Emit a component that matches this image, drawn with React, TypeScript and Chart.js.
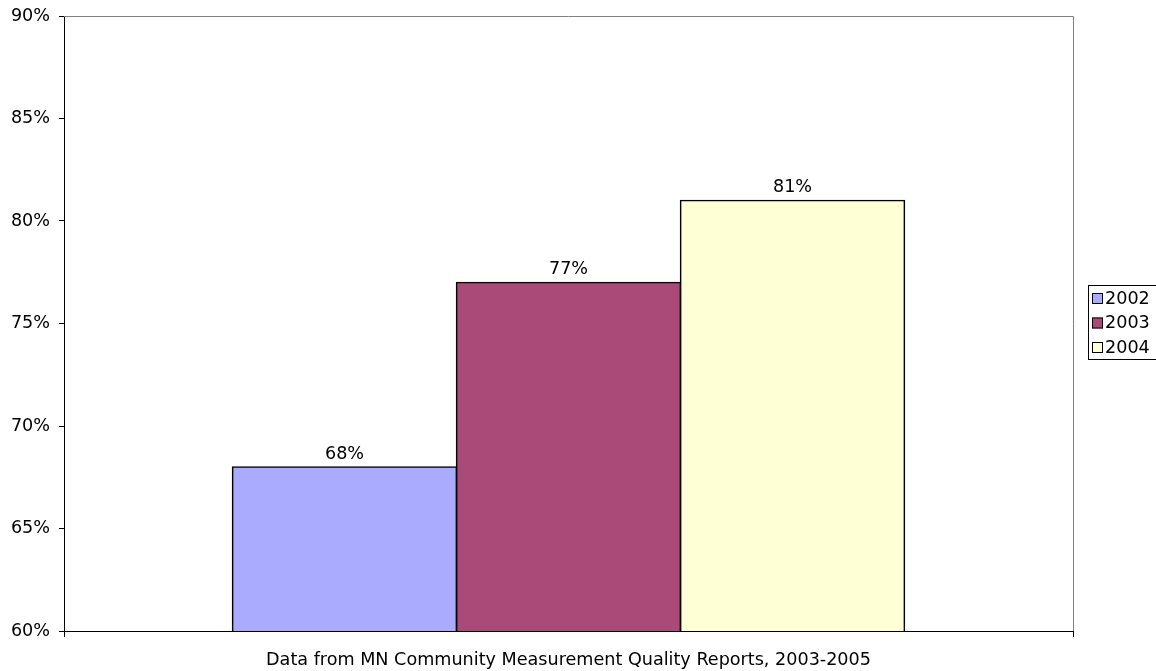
import React, { useEffect, useRef } from "react";
import { Chart, registerables } from "chart.js";

Chart.register(...registerables);

const categories = [""];
const seriesNames = ["2002", "2003", "2004"];
const values2002 = [0.68];
const values2003 = [0.77];
const values2004 = [0.81];
const seriesColors = ["#AAAAFF", "#A94A78", "#FFFFD6"];
const yTickMin = 0.6;
const yTickMax = 0.9;
const yTickStep = 0.05;
const axisTitle = "Data from MN Community Measurement Quality Reports, 2003-2005";

const FONT = "'DejaVu Sans', Verdana, sans-serif";
const FS = 17.6;

const pct = (v: number) => `${Math.round(v * 100)}%`;

const extrasPlugin = {
  id: "extras",
  afterDatasetsDraw(chart: any) {
    const ctx = chart.ctx;
    const area = chart.chartArea;
    ctx.save();
    // gray frame top & right
    ctx.strokeStyle = "#808080";
    ctx.lineWidth = 1;
    ctx.beginPath();
    ctx.moveTo(area.left, area.top + 0.5);
    ctx.lineTo(area.right + 0.5, area.top + 0.5);
    ctx.lineTo(area.right + 0.5, area.bottom);
    ctx.stroke();
    // data labels
    ctx.fillStyle = "#000";
    ctx.font = `${FS}px ${FONT}`;
    ctx.textAlign = "center";
    ctx.textBaseline = "middle";
    chart.data.datasets.forEach((ds: any, i: number) => {
      const meta = chart.getDatasetMeta(i);
      meta.data.forEach((el: any, j: number) => {
        ctx.fillText(pct(ds.data[j]), el.x, el.y - 13);
      });
    });
    // legend
    const lx = 1088.5;
    const ly = 285.5;
    ctx.strokeStyle = "#000";
    ctx.lineWidth = 1;
    ctx.strokeRect(lx, ly, 100, 74);
    ctx.textAlign = "left";
    chart.data.datasets.forEach((ds: any, i: number) => {
      const y = 293 + i * 24.5;
      ctx.fillStyle = ds.backgroundColor;
      ctx.fillRect(1092, y, 11, 11);
      ctx.strokeStyle = "#000";
      ctx.strokeRect(1092.5, y + 0.5, 10, 10);
      ctx.fillStyle = "#000";
      ctx.fillText(ds.label, 1105, y + 6);
    });
    ctx.restore();
  },
};

export default function App() {
  const ref = useRef<HTMLCanvasElement>(null);
  useEffect(() => {
    if (!ref.current) return;
    const data = [values2002, values2003, values2004];
    const chart = new Chart(ref.current, {
      type: "bar",
      data: {
        labels: categories,
        datasets: seriesNames.map((name, i) => ({
          label: name,
          data: data[i],
          backgroundColor: seriesColors[i],
          borderColor: "#000",
          borderWidth: 1.6,
          inflateAmount: 0.75,
          categoryPercentage: 0.666,
          barPercentage: 1,
        })),
      },
      options: {
        animation: false,
        responsive: false,
        maintainAspectRatio: false,
        layout: { padding: { left: 0, right: 83, top: 16, bottom: 0 } },
        plugins: { legend: { display: false }, tooltip: { enabled: false } },
        scales: {
          x: {
            grid: {
              display: true,
              drawOnChartArea: false,
              drawTicks: true,
              tickLength: 6,
              color: "#000",
            },
            border: { display: true, color: "#000", width: 1 },
            ticks: { display: false },
            title: {
              display: true,
              text: axisTitle,
              color: "#000",
              font: { family: FONT, size: FS },
              padding: { top: 0, bottom: 0 },
            },
            afterFit: (s: any) => {
              s.height = 40;
            },
          },
          y: {
            min: yTickMin,
            max: yTickMax,
            grid: {
              drawOnChartArea: false,
              drawTicks: true,
              tickLength: 5,
              color: "#000",
            },
            border: { display: true, color: "#000", width: 1 },
            ticks: {
              stepSize: yTickStep,
              color: "#000",
              padding: 9,
              font: { family: FONT, size: FS },
              callback: (v: any) => pct(Number(v)),
            },
            afterFit: (s: any) => {
              s.width = 64;
              s.paddingTop = 0;
              s.paddingBottom = 0;
            },
          },
        },
      },
      plugins: [extrasPlugin],
    });
    return () => chart.destroy();
  }, []);
  return (
    <div style={{ position: "fixed", left: 0, top: 0, width: 1156, height: 671, background: "#fff" }}>
      <canvas ref={ref} width={1156} height={671} style={{ width: 1156, height: 671 }} />
    </div>
  );
}
